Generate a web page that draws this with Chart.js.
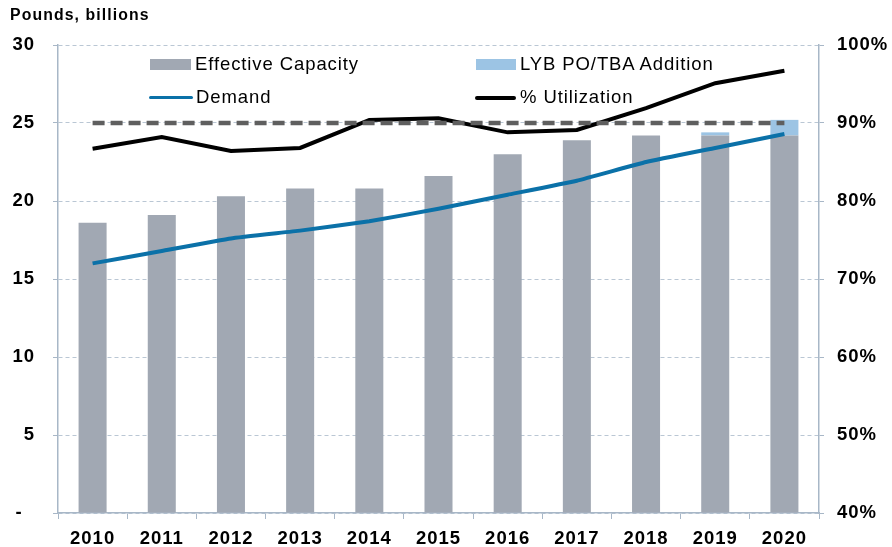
<!DOCTYPE html>
<html>
<head>
<meta charset="utf-8">
<script src="https://cdn.jsdelivr.net/npm/chart.js@4/dist/chart.umd.min.js"></script>
<style>
  body { margin: 0; background: #fff; font-family: "Liberation Sans", Arial, sans-serif; }
  #wrap { position: relative; width: 892px; height: 547px; }
  #title { position: absolute; left: 10px; top: 6px; font-size: 15.8px; line-height: 18px; font-weight: bold; letter-spacing: 1.1px; color: #000; }
  .lg { position: absolute; font-size: 18.5px; letter-spacing: 0.9px; color: #000; white-space: nowrap; line-height: 20px; }
  .sw { position: absolute; }
</style>
</head>
<body>
<div id="wrap">
  <canvas id="chart" width="892" height="547"></canvas>
  <div id="title">Pounds, billions</div>
  <div class="sw" style="left:150px;top:59px;width:41px;height:11px;background:#a1a8b3"></div>
  <div class="lg" style="left:195px;top:54px">Effective Capacity</div>
  <div class="sw" style="left:476px;top:59px;width:40px;height:11px;background:#9cc4e4"></div>
  <div class="lg" style="left:520px;top:54px">LYB PO/TBA Addition</div>
  <div class="sw" style="left:149px;top:96px;width:44px;height:3px;background:#0b71a8;border-radius:2px"></div>
  <div class="lg" style="left:196px;top:87px">Demand</div>
  <div class="sw" style="left:475px;top:96px;width:41px;height:4px;background:#000;border-radius:2px"></div>
  <div class="lg" style="left:520px;top:87px">% Utilization</div>
</div>
<script>
// DATA
const years = ['2010', '2011', '2012', '2013', '2014', '2015', '2016', '2017', '2018', '2019', '2020'];
const effectiveCapacity = [18.6, 19.1, 20.3, 20.8, 20.8, 21.6, 23.0, 23.9, 24.2, 24.2, 24.2];
const lybAddition = [0, 0, 0, 0, 0, 0, 0, 0, 0, 0.2, 1.0];
const demand = [16.0, 16.8, 17.6, 18.1, 18.7, 19.5, 20.4, 21.3, 22.5, 23.4, 24.3];
const utilization = [86.7, 88.2, 86.4, 86.8, 90.4, 90.6, 88.8, 89.1, 91.9, 95.1, 96.7];
const targetLine = [90, 90, 90, 90, 90, 90, 90, 90, 90, 90, 90];

const gridColor = '#bac7d4';
const axisColor = '#a8b7c7';
const tickFont = { family: '"Liberation Sans", Arial, sans-serif', size: 18.5, weight: 'bold' };

const ctx = document.getElementById('chart');

// slightly wider label spacing, like the original
const spacing = {
    id: 'spacing',
    beforeDraw: function(chart) { chart.ctx.letterSpacing = '1px'; }
};

const chart_data = {
    labels: years,
    datasets: [
        {
            type: 'line',
            label: '90% line',
            data: targetLine,
            yAxisID: 'y1',
            borderColor: '#5f5f5f',
            borderWidth: 4.5,
            borderDash: [12, 6],
            pointRadius: 0,
            order: 0
        },
        {
            type: 'line',
            label: '% Utilization',
            data: utilization,
            yAxisID: 'y1',
            borderColor: '#000',
            borderWidth: 4,
            pointRadius: 0,
            tension: 0,
            order: 1
        },
        {
            type: 'line',
            label: 'Demand',
            data: demand,
            yAxisID: 'y',
            stack: 'demand',
            borderColor: '#0b71a8',
            borderWidth: 4,
            pointRadius: 0,
            tension: 0.1,
            order: 1
        },
        {
            type: 'bar',
            label: 'Effective Capacity',
            data: effectiveCapacity,
            yAxisID: 'y',
            stack: 'cap',
            backgroundColor: '#a1a8b3',
            categoryPercentage: 1,
            barPercentage: 0.405,
            order: 2
        },
        {
            type: 'bar',
            label: 'LYB PO/TBA Addition',
            data: lybAddition,
            yAxisID: 'y',
            stack: 'cap',
            backgroundColor: '#9cc4e4',
            categoryPercentage: 1,
            barPercentage: 0.405,
            order: 2
        }
    ]
};

const config = {
    type: 'bar',
    data: chart_data,
    plugins: [spacing],
    options: {
        responsive: false,
        animation: false,
        layout: { padding: { top: 45, right: 0, bottom: 0, left: 0 } },
        plugins: {
            legend: { display: false },
            tooltip: { enabled: false }
        },
        scales: {
            x: {
                stacked: true,
                offset: true,
                grid: {
                    offset: true,
                    drawOnChartArea: false,
                    tickLength: 6,
                    color: axisColor
                },
                border: { color: axisColor, width: 1.5 },
                ticks: { color: '#000', font: tickFont, padding: 9 },
                afterFit: function(scale) { scale.height = 34; }
            },
            y: {
                stacked: true,
                position: 'left',
                min: 0,
                max: 30,
                grid: {
                    color: gridColor,
                    tickColor: axisColor,
                    tickLength: 5,
                    tickBorderDash: []
                },
                border: { color: axisColor, width: 1.5, dash: [4, 3] },
                ticks: {
                    stepSize: 5,
                    color: '#000',
                    font: tickFont,
                    padding: 18,
                    callback: function(v) { return v === 0 ? '-  ' : v; }
                },
                afterFit: function(scale) { scale.width = 58; }
            },
            y1: {
                position: 'right',
                min: 40,
                max: 100,
                grid: {
                    drawOnChartArea: false,
                    color: axisColor,
                    tickLength: 5
                },
                border: { color: axisColor, width: 1.5 },
                ticks: {
                    stepSize: 10,
                    color: '#000',
                    font: tickFont,
                    padding: 13,
                    callback: function(v) { return v + '%'; }
                },
                afterFit: function(scale) { scale.width = 73; }
            }
        }
    }
};

const chart = new Chart(ctx, config);
</script>
</body>
</html>
